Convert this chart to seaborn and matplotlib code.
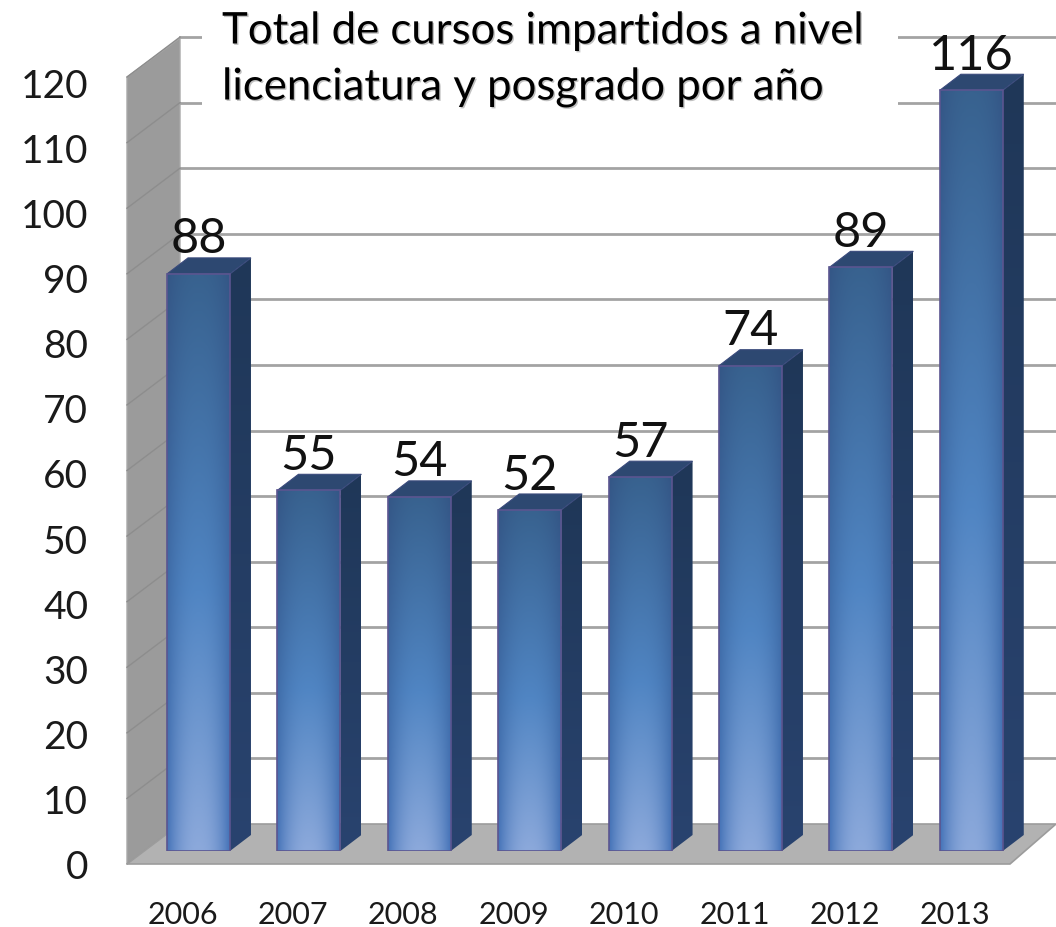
import numpy as np
import pandas as pd
import seaborn as sns
import matplotlib.pyplot as plt
import matplotlib.patheffects as pe
from matplotlib.colors import to_rgb
from matplotlib.patches import Polygon
from matplotlib.transforms import ScaledTranslation

years = ['2006', '2007', '2008', '2009', '2010', '2011', '2012', '2013']
cursos = [88, 55, 54, 52, 57, 74, 89, 116]
y_ticks = [0, 10, 20, 30, 40, 50, 60, 70, 80, 90, 100, 110, 120]
title_lines = ['Total de cursos impartidos a nivel', 'licenciatura y posgrado por año']

W, H = 1056, 928
plt.rcParams['font.family'] = ['Lato', 'DejaVu Sans']
shadow = [pe.withSimplePatchShadow(offset=(1, -1), shadow_rgbFace='#777777', alpha=0.45)]

# plano frontal de las barras, en pixeles de la imagen
px_left, px_step = 143.3, 110.4
px_base, px_unit = 852, 6.558

def x_of(px):
    return (px - px_left) / px_step - 0.5

def y_of(py):
    return (px_base - py) / px_unit

def axes_rect(left, right, bottom, top):
    return [left / W, 1 - bottom / H, (right - left) / W, (bottom - top) / H]

def stops(t, c0, c1, c2):
    c = np.array([to_rgb(c0), to_rgb(c1), to_rgb(c2)])
    return np.stack([np.interp(t, [0, 0.55, 1], c[:, i]) for i in range(3)], axis=-1)

def front_gradient():
    v = np.linspace(0, 1, 200)
    u = np.linspace(-1, 1, 80)
    centre = stops(v, '#38628f', '#5085c3', '#8ca9db')[:, None, :]
    edge = stops(v, '#345686', '#3f6ca8', '#4573b8')[:, None, :]
    w = (1 - np.abs(u) ** 2.2)[None, :, None]
    return edge + (centre - edge) * w

fig = plt.figure(figsize=(W / 100, H / 100), dpi=100)
ax = fig.add_axes(axes_rect(px_left, px_left + 8 * px_step, px_base, px_base - 120 * px_unit))

data = pd.DataFrame({'year': years, 'cursos': cursos})
sns.barplot(data=data, x='year', y='cursos', width=0.57, color='#4c7fbc', ax=ax, zorder=5)
ax.set_xlim(-0.5, 7.5)
ax.set_ylim(0, 120)

# pared izquierda, piso y lineas de fondo
ax.add_patch(Polygon([(x_of(127), y_of(865)), (x_of(180), y_of(825)), (x_of(180), y_of(39)), (x_of(127), y_of(78))],
                     fc='#9b9b9b', ec='#a8a8a8', lw=1, clip_on=False, zorder=1))
ax.add_patch(Polygon([(x_of(127), y_of(865)), (x_of(180), y_of(825)), (x_of(1056), y_of(825)), (x_of(1010), y_of(865))],
                     fc='#b2b2b2', ec='#9c9c9c', lw=1.2, clip_on=False, zorder=2))
for t in y_ticks:
    py = 825 - t * px_unit
    if t > 0:
        ax.plot([x_of(180), x_of(1056)], [y_of(py)] * 2, color='#a3a3a3', lw=2, clip_on=False, zorder=1)
    ax.plot([x_of(127), x_of(180)], [y_of(py + 40), y_of(py)], color='#8d8d8d', lw=1, clip_on=False, zorder=1.5)

# caja blanca del titulo
ax.add_patch(Polygon([(x_of(202), y_of(8)), (x_of(898), y_of(8)), (x_of(898), y_of(132)), (x_of(202), y_of(132))],
                     fc='white', ec='none', clip_on=False, zorder=3))

# caras laterales, superiores y degradado de cada barra
dx, dy = 21 / px_step, 16 / px_unit
for bar, val in zip(ax.patches, cursos):
    x0, x1 = bar.get_x(), bar.get_x() + bar.get_width()
    side = Polygon([(x1, 0), (x1 + dx, dy), (x1 + dx, val + dy), (x1, val)], fc='none', ec='none', clip_on=False)
    ax.add_patch(side)
    v = np.linspace(0, 1, 100)[:, None, None]
    shade = np.array(to_rgb('#1f3758'))[None, None, :] * (1 - v) + np.array(to_rgb('#29436f'))[None, None, :] * v
    im = ax.imshow(shade, extent=(x1, x1 + dx, 0, val + dy), aspect='auto', zorder=4.5)
    im.set_clip_path(side)
    ax.add_patch(Polygon([(x0, val), (x1, val), (x1 + dx, val + dy), (x0 + dx, val + dy)],
                         fc='#2d4871', ec='#3a4a7c', lw=0.8, clip_on=False, zorder=4.6))
    bar.set_facecolor('none')
    bar.set_edgecolor('#5b5590')
    bar.set_linewidth(1.2)
    front = ax.imshow(front_gradient(), extent=(x0, x1, 0, val), aspect='auto', zorder=4.8)
    front.set_clip_path(bar)
ax.set_xlim(-0.5, 7.5)
ax.set_ylim(0, 120)

# etiquetas de valor
for i, val in enumerate(cursos):
    ax.annotate(str(val), (i, val), xytext=(0, 25.5), textcoords='offset points',
                ha='center', va='center', fontsize=35, color='#111111', annotation_clip=False, zorder=8)

ax.patch.set_alpha(0)
ax.tick_params(axis='x', length=0, pad=35, labelsize=22, labelcolor='#1a1a1a')
# los anos quedan corridos a la izquierda de las barras
for label in ax.get_xticklabels():
    label.set_transform(label.get_transform() + ScaledTranslation(-0.16, 0, fig.dpi_scale_trans))
ax.set_yticks([])
ax.set_xlabel('')
ax.set_ylabel('')
sns.despine(ax=ax, left=True, bottom=True)

# eje de valores con su propia escala
ax_y = fig.add_axes(axes_rect(100, 127, 865, 83))
ax_y.set_ylim(0, 120)
ax_y.set_yticks(y_ticks)
ax_y.set_xticks([])
ax_y.tick_params(axis='y', length=0, pad=8.5, labelsize=28, labelcolor='#1a1a1a')
ax_y.patch.set_alpha(0)
sns.despine(ax=ax_y, left=True, bottom=True)

for line, py in zip(title_lines, [32, 88]):
    fig.text(222 / W, 1 - py / H, line, fontsize=31.5, color='black', va='center', ha='left', path_effects=shadow)

fig.savefig('out.png', dpi=100)
